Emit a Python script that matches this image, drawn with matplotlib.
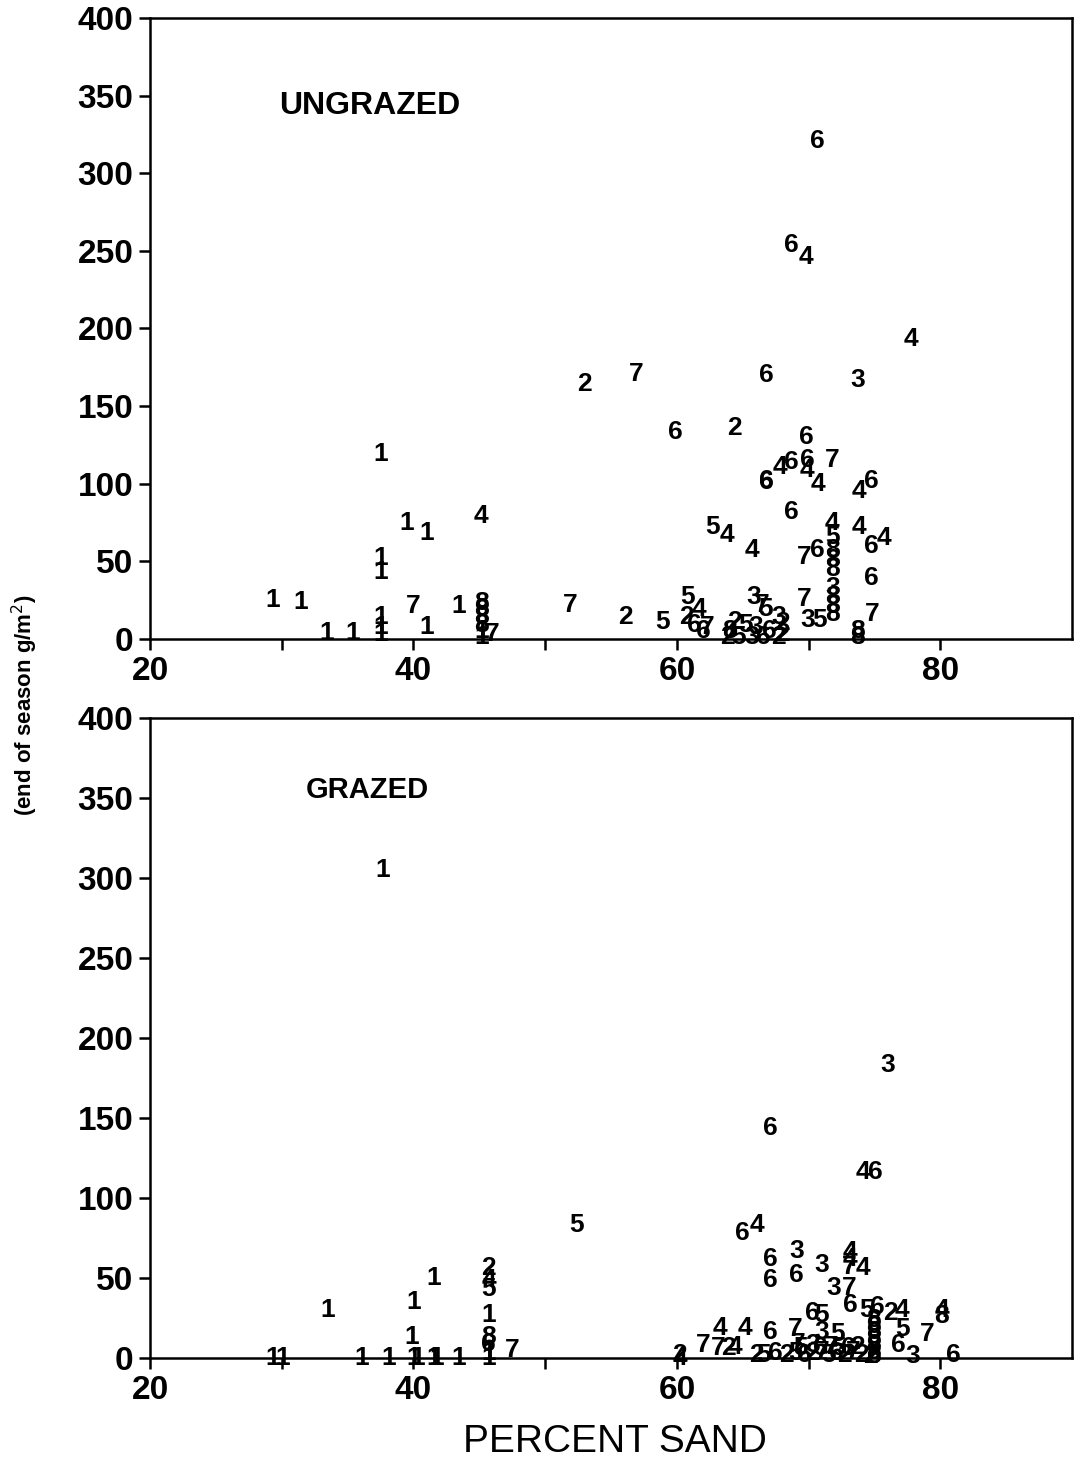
import numpy as np
from matplotlib import pyplot as plt

# ungrazed plots: percent sand, end of season biomass (g/m2), plot code
ungrazed_sand = [
    70.7, 68.7, 69.8, 77.8, 53.0, 56.9, 66.8, 73.7, 59.9, 64.4,
    69.8, 67.8, 68.7, 69.9, 69.9, 71.8, 66.8, 66.8, 70.7, 73.8,
    74.8, 68.7, 71.8, 73.8, 62.7, 63.8, 65.7, 74.8, 75.7, 69.7,
    70.7, 71.8, 71.8, 71.8, 71.8, 71.8, 71.8, 71.8, 71.8, 74.8,
    74.8, 73.7, 73.7, 69.7, 69.9, 70.8, 56.1, 58.9, 60.8, 61.7,
    60.7, 61.3, 62.3, 65.8, 66.7, 67.7, 68.0, 64.4, 65.2, 66.0,
    67.0, 68.0, 64.0, 62.0, 66.5, 63.8, 64.7, 65.7, 66.6, 67.7,
    37.5, 39.5, 41.0, 45.1, 37.5, 37.5, 29.3, 31.4, 40.0, 43.4,
    51.9, 45.2, 45.2, 45.2, 45.2, 45.2, 45.2, 37.5, 37.5, 37.5,
    41.0, 33.4, 35.4, 46.0,
]
ungrazed_biomass = [
    321, 254, 246, 193, 164, 171, 170, 167, 133, 136,
    130, 111, 114, 115, 109, 115, 102, 101, 100, 95,
    102, 82, 75, 72, 72, 67, 57, 60, 65, 53,
    57, 66, 57, 51, 45, 33, 27, 21, 16, 39,
    16, 5, 1, 26, 12, 12, 14, 11, 27, 19,
    14, 9, 8, 27, 19, 14, 10, 11, 9, 8,
    5, 3, 5, 5, 22, 1, 1, 1, 1, 1,
    119, 75, 68, 79, 52, 43, 25, 24, 21, 21,
    22, 23, 19, 14, 9, 5, 1, 14, 8, 3,
    8, 4, 4, 3,
]
ungrazed_code = [
    '6', '6', '4', '4', '2', '7', '6', '3', '6', '2',
    '6', '4', '6', '6', '4', '7', '6', '6', '4', '4',
    '6', '6', '4', '4', '5', '4', '4', '6', '4', '7',
    '6', '5', '8', '8', '8', '3', '8', '8', '8', '6',
    '7', '8', '8', '7', '3', '5', '2', '5', '5', '4',
    '2', '6', '7', '3', '5', '3', '2', '2', '5', '3',
    '6', '2', '8', '6', '7', '2', '5', '3', '6', '2',
    '1', '1', '1', '4', '1', '1', '1', '1', '7', '1',
    '7', '8', '8', '8', '8', '1', '1', '1', '1', '1',
    '1', '1', '1', '7',
]

# grazed plots
grazed_sand = [
    37.7, 76.0, 67.1, 74.1, 75.1, 52.4, 65.0, 66.1, 67.1, 69.1,
    67.1, 69.1, 71.0, 73.1, 73.1, 73.1, 74.1, 71.9, 73.1, 73.2,
    74.4, 75.2, 76.2, 77.1, 70.3, 71.0, 80.1, 80.1, 79.0, 77.1,
    76.8, 77.9, 81.0, 63.3, 65.2, 67.1, 69.0, 62.0, 63.1, 63.9,
    64.4, 60.2, 60.2, 74.9, 74.9, 74.9, 74.9, 74.9, 74.9, 74.9,
    71.0, 72.2, 66.0, 66.6, 67.5, 68.3, 69.0, 69.7, 70.3, 71.0,
    71.5, 72.1, 72.7, 73.4, 74.0, 74.7, 69.2, 69.4, 70.3, 70.9,
    71.7, 72.3, 73.0, 73.7,
    33.5, 40.0, 41.5, 45.7, 45.7, 45.7, 45.7, 45.7, 45.7, 47.5,
    39.9, 29.3, 30.1, 36.1, 38.1, 40.0, 40.3, 41.5, 41.8, 43.4,
    45.7, 45.7,
]
grazed_biomass = [
    305, 183, 144, 116, 116, 83, 78, 83, 62, 67,
    49, 52, 58, 66, 62, 57, 56, 44, 44, 33,
    30, 32, 28, 30, 28, 27, 30, 26, 15, 18,
    8, 1, 2, 19, 19, 16, 18, 8, 6, 6,
    7, 2, 0, 24, 20, 16, 12, 8, 4, 1,
    16, 15, 2, 2, 3, 2, 3, 2, 3, 4,
    2, 3, 2, 4, 2, 1, 9, 6, 8, 6,
    7, 6, 6, 7,
    30, 35, 50, 56, 49, 43, 27, 13, 9, 5,
    13, 0, 0, 0, 0, 0, 0, 0, 0, 0,
    0, 3,
]
grazed_code = [
    '1', '3', '6', '4', '6', '5', '6', '4', '6', '3',
    '6', '6', '3', '4', '4', '7', '4', '3', '7', '6',
    '5', '6', '2', '4', '6', '5', '4', '8', '7', '5',
    '6', '3', '6', '4', '4', '6', '7', '7', '7', '2',
    '4', '2', '4', '8', '8', '8', '8', '8', '8', '8',
    '3', '5', '2', '5', '6', '2', '5', '6', '2', '7',
    '5', '6', '2', '7', '2', '2', '7', '5', '3', '6',
    '7', '5', '6', '2',
    '1', '1', '1', '2', '4', '5', '1', '8', '6', '7',
    '1', '1', '1', '1', '1', '1', '1', '1', '1', '1',
    '1', '1',
]

xticks = np.arange(20, 81, 10)
xticklabels = ['20', '', '40', '', '60', '', '80']
yticks = np.arange(0, 401, 50)

plt.rcParams['font.family'] = ['Liberation Sans', 'DejaVu Sans']

fig = plt.figure(figsize=(10.74, 14.74), dpi=100)
ax_top = fig.add_axes([0.1397, 0.5665, 0.8585, 0.4213])
ax_bot = fig.add_axes([0.1397, 0.0787, 0.8585, 0.4342])

panels = [
    (ax_top, ungrazed_sand, ungrazed_biomass, ungrazed_code, 'UNGRAZED', (29.8, 343), 23),
    (ax_bot, grazed_sand, grazed_biomass, grazed_code, 'GRAZED', (31.8, 355), 21),
]

for ax, sand, biomass, code, name, name_pos, name_size in panels:
    ax.set_xlim(20, 90)
    ax.set_ylim(0, 400)
    for x, y, c in zip(sand, biomass, code):
        ax.text(x, y, c, fontsize=19, fontweight='bold', ha='center', va='center')
    ax.text(name_pos[0], name_pos[1], name, fontsize=name_size, fontweight='bold',
            ha='left', va='center')
    ax.set_xticks(xticks)
    ax.set_xticklabels(xticklabels)
    ax.set_yticks(yticks)
    ax.tick_params(direction='out', length=8, width=1.8, labelsize=24, pad=4)
    for lab in ax.get_xticklabels() + ax.get_yticklabels():
        lab.set_fontweight('bold')
    for s in ax.spines.values():
        s.set_linewidth(1.8)

fig.text(25 / 1074, 1 - 705 / 1474, '(end of season g/m$^2$)', rotation=90,
         fontsize=16, fontweight='bold', ha='center', va='center')
fig.text(615 / 1074, 1 - 1442 / 1474, 'PERCENT SAND', fontsize=28,
         ha='center', va='center')

fig.savefig('out.png', dpi=100)
